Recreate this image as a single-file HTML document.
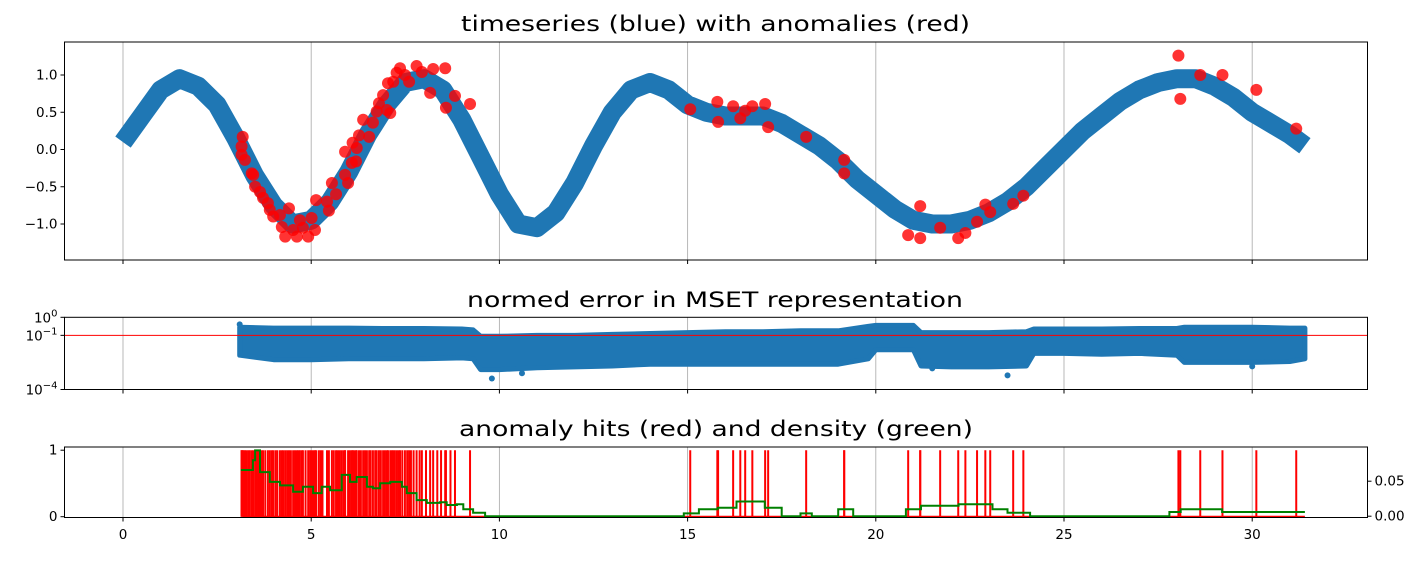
<!DOCTYPE html>
<html><head><meta charset="utf-8"><style>
body{margin:0;background:#fff;}
svg{display:block;font-family:"DejaVu Sans","Liberation Sans",sans-serif;}
</style></head><body>
<svg id="chart" width="1427" height="561" viewBox="0 0 1427 561"></svg>
<script>
// ---- data ----
const tsX = [0,0.5,1,1.5,2,2.5,3,3.5,4,4.5,5,5.5,6,6.5,7,7.5,8,8.5,9,9.5,10,10.5,11,11.5,12,12.5,13,13.5,14,14.5,15,15.5,16,16.5,17,17.5,18,18.5,19,19.5,20,20.5,21,21.5,22,22.5,23,23.5,24,24.5,25,25.5,26,26.5,27,27.5,28,28.5,29,29.5,30,30.5,31,31.4];
const tsY = [0.1,0.45,0.8,0.95,0.85,0.6,0.15,-0.35,-0.75,-1.0,-0.95,-0.7,-0.3,0.2,0.6,0.9,0.95,0.8,0.4,-0.1,-0.6,-1.0,-1.05,-0.85,-0.45,0.05,0.5,0.8,0.9,0.8,0.6,0.5,0.45,0.45,0.45,0.35,0.2,0.05,-0.15,-0.4,-0.6,-0.8,-0.95,-1.0,-1.0,-0.95,-0.85,-0.7,-0.5,-0.25,0.0,0.25,0.45,0.65,0.8,0.9,0.95,0.95,0.85,0.7,0.5,0.35,0.2,0.05];
const anX = [3.18,3.15,3.15,3.24,3.42,3.46,3.51,3.64,3.72,3.85,3.90,3.99,4.17,4.22,4.31,4.41,4.52,4.62,4.70,4.78,4.92,5.01,5.10,5.13,5.42,5.47,5.55,5.66,5.90,5.98,5.90,6.08,6.19,6.10,6.21,6.27,6.38,6.54,6.64,6.74,6.80,6.91,7.01,7.10,7.04,7.18,7.27,7.36,7.49,7.60,7.80,7.94,8.24,8.56,8.16,8.58,8.82,9.22,15.07,15.79,15.81,16.21,16.40,16.53,16.72,17.06,17.14,18.15,19.16,19.16,20.86,21.18,21.18,21.71,22.19,22.38,22.69,22.91,23.04,23.65,23.92,28.04,28.09,28.62,29.21,30.11,31.17];
const anY = [0.17,0.04,-0.07,-0.14,-0.32,-0.34,-0.50,-0.57,-0.65,-0.72,-0.81,-0.90,-0.88,-1.04,-1.17,-0.79,-1.08,-1.17,-0.95,-1.05,-1.17,-0.92,-1.08,-0.68,-0.70,-0.82,-0.45,-0.60,-0.34,-0.45,-0.03,-0.18,-0.16,0.09,0.02,0.19,0.40,0.17,0.36,0.51,0.62,0.73,0.53,0.49,0.89,0.91,1.03,1.09,1.00,0.91,1.12,1.04,1.08,1.09,0.76,0.56,0.72,0.61,0.54,0.64,0.37,0.58,0.42,0.52,0.58,0.61,0.30,0.17,-0.14,-0.32,-1.15,-0.76,-1.19,-1.05,-1.19,-1.12,-0.97,-0.74,-0.84,-0.73,-0.62,1.26,0.68,1.00,1.00,0.80,0.28];
const extraHitX = [3.2,3.28,3.33,3.37,3.55,3.6,3.68,3.78,3.95,4.05,4.1,4.26,4.36,4.46,4.57,4.66,4.75,4.85,4.97,5.06,5.2,5.25,5.3,5.6,5.7,5.75,5.8,5.85,6.03,6.14,6.32,6.43,6.48,6.58,6.7,6.85,6.96,7.14,7.22,7.32,7.42,7.55,7.65,7.72,7.88,8.05,8.35,8.45,8.7];
const errX = [3.1,4,5,6,7,8,9,9.3,9.5,10,11,12,13,14,15,16,17,18,19,19.8,20,21,21.2,22,23,24,24.2,25,26,27,28,28.2,29,30,31,31.4];
const errHi = [-0.55,-0.6,-0.6,-0.6,-0.62,-0.62,-0.65,-0.7,-1.05,-1.05,-1.0,-1.0,-0.95,-0.9,-0.85,-0.8,-0.8,-0.75,-0.75,-0.5,-0.45,-0.45,-0.85,-0.85,-0.85,-0.8,-0.65,-0.65,-0.65,-0.62,-0.62,-0.55,-0.55,-0.55,-0.6,-0.6];
const errLo = [-2.1,-2.35,-2.35,-2.3,-2.3,-2.3,-2.25,-2.3,-2.9,-2.9,-2.8,-2.75,-2.7,-2.6,-2.6,-2.6,-2.6,-2.6,-2.6,-2.3,-1.8,-1.8,-2.7,-2.75,-2.75,-2.7,-2.0,-2.0,-2.05,-2.0,-2.1,-2.5,-2.5,-2.5,-2.45,-2.3];
const outX = [3.1,9.8,10.6,21.5,23.5,30.0];
const outY = [-0.39,-3.39,-3.1,-2.83,-3.22,-2.72];
const thresh = -1;
const densX = [3.13,3.45,3.51,3.64,3.9,4.17,4.52,4.78,5.05,5.28,5.5,5.81,6.03,6.21,6.48,6.64,6.83,7.1,7.41,7.54,7.8,8.07,8.42,8.6,8.87,9.04,9.3,9.62,14.9,15.3,15.8,16.3,17.05,17.2,17.5,18.0,18.3,19.0,19.4,20.8,21.2,21.5,22.2,23.1,23.5,24.1,27.8,28.1,28.6,29.2,31.4];
const densV = [0.066,0.08,0.094,0.063,0.049,0.044,0.035,0.042,0.033,0.042,0.037,0.059,0.049,0.056,0.042,0.04,0.047,0.049,0.042,0.033,0.023,0.019,0.02,0.016,0.017,0.01,0.005,0.0,0.004,0.01,0.012,0.021,0.012,0.012,0.0,0.004,0.0,0.01,0.0,0.01,0.015,0.015,0.017,0.01,0.005,0.0,0.006,0.01,0.01,0.006,0.006];
const xTicks = [0,5,10,15,20,25,30];
const y1Ticks = [1.0,0.5,0.0,-0.5,-1.0];
const y1Labels = ["1.0","0.5","0.0","\u22120.5","\u22121.0"];
const y2Ticks = [0,-1,-4];
const y2Exps = ["0","\u22121","\u22124"];
const y3Ticks = [0,1];
const yRTicks = [0,0.05];
const yRLabels = ["0.00","0.05"];

// ---- layout ----
const NS="http://www.w3.org/2000/svg";
const svg=document.getElementById('chart');
const L=64.5,R=1367.5;
const sx=v=>123+v*37.64;
const P1={t:42,b:260}, P2={t:317.3,b:389.5}, P3={t:447,b:517.5};
const sy1=v=>149.5-v*74.5;
const sy2=v=>317.3-v*18.05;
const sy3=v=>516.7-v*66.5;
const syR=v=>516.2-v*700;
function mk(tag,attrs,parent){const e=document.createElementNS(NS,tag);for(const k in attrs)e.setAttribute(k,attrs[k]);(parent||svg).appendChild(e);return e;}

function panel(P,name){
  const g=mk('g',{});
  
  
  xTicks.forEach(t=>{
    const l=mk('line',{x1:sx(t),x2:sx(t),y1:P.t,y2:P.b,stroke:'#b0b0b0','stroke-width':0.9},g);
    
    
    mk('line',{x1:sx(t),x2:sx(t),y1:P.b,y2:P.b+4,stroke:'#000','stroke-width':1},g);
  });
  return g;
}
function frame(P,name){
  const r=mk('rect',{x:L,y:P.t,width:R-L,height:P.b-P.t,fill:'none',stroke:'#000','stroke-width':1});
  
  
}
function title(txt,y,x1,x2,name){
  const t=mk('text',{x:(x1+x2)/2,y:y,'text-anchor':'middle','font-size':21,textLength:x2-x1,lengthAdjust:'spacingAndGlyphs',fill:'#000'});
  t.textContent=txt;
  
  
}
function ytick(x,y,txt,anchor,name){
  const t=mk('text',{x:x,y:y+4.5,'text-anchor':anchor,'font-size':13.5,fill:'#000'});
  t.textContent=txt;
  
  
}

// ---- panel 1 ----
const g1=panel(P1,'timeseries-panel');
let d='';tsX.forEach((x,i)=>{d+=(i?'L':'M')+sx(x).toFixed(1)+' '+sy1(tsY[i]).toFixed(1);});
const ts=mk('path',{d:d,fill:'none',stroke:'#1f77b4','stroke-width':19,'stroke-linejoin':'round','stroke-linecap':'butt'},g1);


anX.forEach((x,i)=>{
  const c=mk('circle',{cx:sx(x),cy:sy1(anY[i]),r:6,fill:'#ff0000','fill-opacity':0.8},g1);
  
  
});
frame(P1,'timeseries-axes');
y1Ticks.forEach((v,i)=>{mk('line',{x1:L-4,x2:L,y1:sy1(v),y2:sy1(v),stroke:'#000'});ytick(L-7,sy1(v),y1Labels[i],'end','y-tick-label');});
title('timeseries (blue) with anomalies (red)',31,461,970,'timeseries-title');

// ---- panel 2 ----
const g2=panel(P2,'error-panel');
let pd='';errX.forEach((x,i)=>{pd+=(i?'L':'M')+sx(x).toFixed(1)+' '+sy2(errHi[i]).toFixed(1);});
for(let i=errX.length-1;i>=0;i--)pd+='L'+sx(errX[i]).toFixed(1)+' '+sy2(errLo[i]).toFixed(1);
const band=mk('path',{d:pd+'Z',fill:'#1f77b4',stroke:'#1f77b4','stroke-width':5,'stroke-linejoin':'round'},g2);


outX.forEach((x,i)=>{
  const c=mk('circle',{cx:sx(x),cy:sy2(outY[i]),r:3,fill:'#1f77b4'},g2);
  
  
});
const th=mk('line',{x1:L,x2:R,y1:sy2(thresh),y2:sy2(thresh),stroke:'#ff0000','stroke-width':1},g2);


frame(P2,'error-axes');
y2Ticks.forEach((v,i)=>{
  mk('line',{x1:L-4,x2:L,y1:sy2(v),y2:sy2(v),stroke:'#000'});
  const t=mk('text',{x:L-7,y:sy2(v)+5,'text-anchor':'end','font-size':13.5,fill:'#000'});
  const a=mk('tspan',{},t);a.textContent='10';
  const b=mk('tspan',{dy:-6,'font-size':10},t);b.textContent=y2Exps[i];
  
  
});
title('normed error in MSET representation',307,467,963,'error-title');

// ---- panel 3 ----
const g3=panel(P3,'hits-panel');
anX.concat(extraHitX).forEach(x=>{
  const l=mk('line',{x1:sx(x),x2:sx(x),y1:sy3(0),y2:sy3(1),stroke:'#ff0000','stroke-width':2},g3);
  
  
});
const base=mk('line',{x1:sx(anX[0]),x2:sx(31.4),y1:sy3(0),y2:sy3(0),stroke:'#ff0000','stroke-width':2},g3);


let sd='';densX.forEach((x,i)=>{
  if(i===0)sd='M'+sx(x)+' '+syR(densV[i]);
  else sd+='H'+sx(x).toFixed(1)+'V'+syR(densV[i]).toFixed(1);
});
const dn=mk('path',{d:sd,fill:'none',stroke:'#008000','stroke-width':2},g3);


frame(P3,'hits-axes');
y3Ticks.forEach(v=>{mk('line',{x1:L-4,x2:L,y1:sy3(v),y2:sy3(v),stroke:'#000'});ytick(L-7,sy3(v),String(v),'end','y-tick-label');});
yRTicks.forEach((v,i)=>{mk('line',{x1:R,x2:R+4,y1:syR(v),y2:syR(v),stroke:'#000'});ytick(R+7,syR(v),yRLabels[i],'start','right-y-tick-label');});
xTicks.forEach(t=>{
  const e=mk('text',{x:sx(t),y:539,'text-anchor':'middle','font-size':13.5,fill:'#000'});
  e.textContent=String(t);
  
  
});
title('anomaly hits (red) and density (green)',436,459,973,'hits-title');
</script>
</body></html>
